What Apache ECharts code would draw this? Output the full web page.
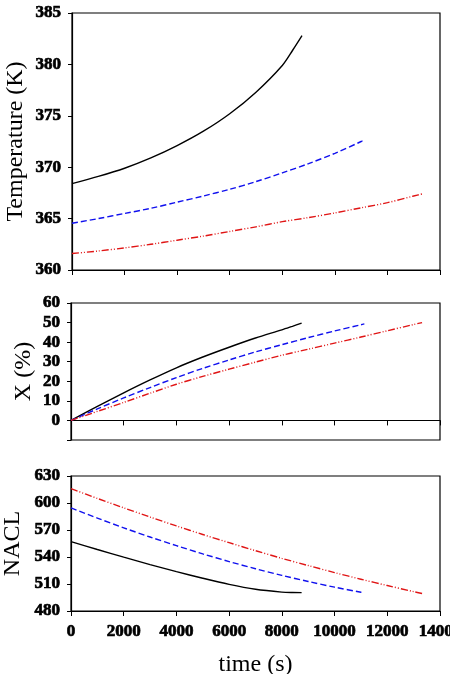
<!DOCTYPE html>
<html>
<head>
<meta charset="utf-8">
<script src="https://cdn.jsdelivr.net/npm/echarts@6/dist/echarts.min.js"></script>
<style>
  html, body { margin: 0; padding: 0; background: #fff; }
  #chart { width: 450px; height: 674px; }
</style>
</head>
<body>
<div id="chart"></div>
<script>
// time points (s) for each run
const tBlack = [0, 1000, 2000, 3000, 4000, 5000, 6000, 7000, 8000, 8400, 8750];
const tBlue = [0, 1000, 2000, 3000, 4000, 5000, 6000, 7000, 8000, 9000, 10000, 11000, 11130];
const tRed = [0, 1000, 2000, 3000, 4000, 5000, 6000, 7000, 8000, 9000, 10000, 11000, 12000, 13000, 13320];

// Temperature (K)
const tempBlack = [368.4, 369.1, 369.9, 370.9, 372.1, 373.5, 375.2, 377.3, 379.9, 381.4, 382.8];
const tempBlue = [364.55, 365.0, 365.5, 366.0, 366.6, 367.2, 367.85, 368.6, 369.45, 370.35, 371.35, 372.5, 372.7];
const tempRed = [361.6, 361.85, 362.15, 362.5, 362.9, 363.3, 363.75, 364.2, 364.7, 365.1, 365.55, 366.05, 366.55, 367.2, 367.4];

// conversion X (%)
const convBlack = [0, 7.2, 14.1, 20.7, 26.9, 32.4, 37.4, 42.1, 46.3, 48.1, 49.7];
const convBlue = [0, 5.9, 11.5, 16.8, 21.9, 26.6, 30.9, 35.0, 38.7, 42.3, 45.7, 48.9, 49.3];
const convRed = [0, 4.6, 9.2, 13.9, 18.5, 22.5, 26.2, 29.8, 33.3, 36.4, 39.5, 42.6, 45.8, 49.0, 50.0];

// NACL
const naclBlack = [557, 548.3, 539.8, 531.6, 523.8, 516.4, 509.6, 504.2, 501.0, 500.5, 500.4];
const naclBlue = [594.5, 583.2, 572.4, 562.2, 552.6, 543.5, 534.9, 527.0, 519.6, 512.8, 506.5, 500.8, 500.0];
const naclRed = [616, 605.1, 594.6, 584.4, 574.5, 565.0, 555.9, 547.0, 538.5, 530.5, 522.7, 515.3, 508.3, 501.5, 499.5];

const xTicks = [0, 2000, 4000, 6000, 8000, 10000, 12000, 14000];

const font = "'Liberation Serif', 'Times New Roman', serif";
const pairs = (ts, vs) => ts.map((t, i) => [t, vs[i]]);

const lineBlack = { color: '#000', width: 1.4, type: 'solid' };
const lineBlue = { color: '#1010ee', width: 1.4, type: [6, 3] };
const lineRed = { color: '#e01515', width: 1.4, type: [7, 2, 1, 2, 1, 2] };

// tick labels: heavy bold serif like the original
const tickText = {
  color: '#000',
  fontFamily: font,
  fontWeight: 'bold',
  fontSize: 17,
  textBorderColor: '#000',
  textBorderWidth: 0.7
};

function makeX(idx, showLabel) {
  return {
    gridIndex: idx,
    type: 'value',
    min: xTicks[0],
    max: xTicks[xTicks.length - 1],
    interval: 2000,
    axisLine: { show: true, lineStyle: { color: '#000', width: 1.2 } },
    axisTick: { show: true, inside: false, length: 5, lineStyle: { color: '#000', width: 1 } },
    splitLine: { show: false },
    axisLabel: Object.assign({}, tickText, {
      show: showLabel,
      margin: 12,
      showMaxLabel: true,
      hideOverlap: false,
      formatter: v => String(v)
    }),
    name: showLabel ? 'time (s)' : '',
    nameLocation: 'middle',
    nameGap: 42,
    nameMoveOverlap: false,
    nameTextStyle: { color: '#000', fontFamily: font, fontSize: 24 }
  };
}

function makeY(idx, name, min, max, interval, nameGap, fmt) {
  return {
    gridIndex: idx,
    type: 'value',
    min: min,
    max: max,
    interval: interval,
    axisLine: { show: true, lineStyle: { color: '#000', width: 1.2 } },
    axisTick: { show: true, inside: false, length: 4, lineStyle: { color: '#000', width: 1 } },
    splitLine: { show: false },
    axisLabel: Object.assign({}, tickText, {
      margin: 11,
      formatter: fmt || (v => String(v))
    }),
    name: name,
    nameLocation: 'middle',
    nameGap: nameGap,
    nameMoveOverlap: false,
    nameTextStyle: { color: '#000', fontFamily: font, fontSize: 24 }
  };
}

function makeSeries(idx, data, style) {
  return {
    type: 'line',
    xAxisIndex: idx,
    yAxisIndex: idx,
    data: data,
    showSymbol: false,
    smooth: 0.3,
    lineStyle: style,
    silent: true
  };
}

const gridBase = { left: 72, right: 10, show: true, borderColor: '#000', borderWidth: 1.2, backgroundColor: 'transparent', containLabel: false, outerBoundsMode: 'none' };

const chart = echarts.init(document.getElementById('chart'), null, { renderer: 'canvas' });
chart.setOption({
  animation: false,
  backgroundColor: '#fff',
  grid: [
    Object.assign({}, gridBase, { top: 13, height: 257 }),
    Object.assign({}, gridBase, { left: 71, top: 303, height: 137 }),
    Object.assign({}, gridBase, { left: 71, top: 476, height: 135 })
  ],
  xAxis: [makeX(0, false), makeX(1, false), makeX(2, true)],
  yAxis: [
    makeY(0, 'Temperature (K)', 360, 385, 5, 44),
    makeY(1, 'X (%)', -10, 60, 10, 35, v => (v < 0 ? '' : String(v))),
    makeY(2, 'NACL', 480, 630, 30, 46)
  ],
  series: [
    makeSeries(0, pairs(tBlack, tempBlack), lineBlack),
    makeSeries(0, pairs(tBlue, tempBlue), lineBlue),
    makeSeries(0, pairs(tRed, tempRed), lineRed),
    makeSeries(1, pairs(tBlack, convBlack), lineBlack),
    makeSeries(1, pairs(tBlue, convBlue), lineBlue),
    makeSeries(1, pairs(tRed, convRed), lineRed),
    makeSeries(2, pairs(tBlack, naclBlack), lineBlack),
    makeSeries(2, pairs(tBlue, naclBlue), lineBlue),
    makeSeries(2, pairs(tRed, naclRed), lineRed)
  ]
});
</script>
</body>
</html>
